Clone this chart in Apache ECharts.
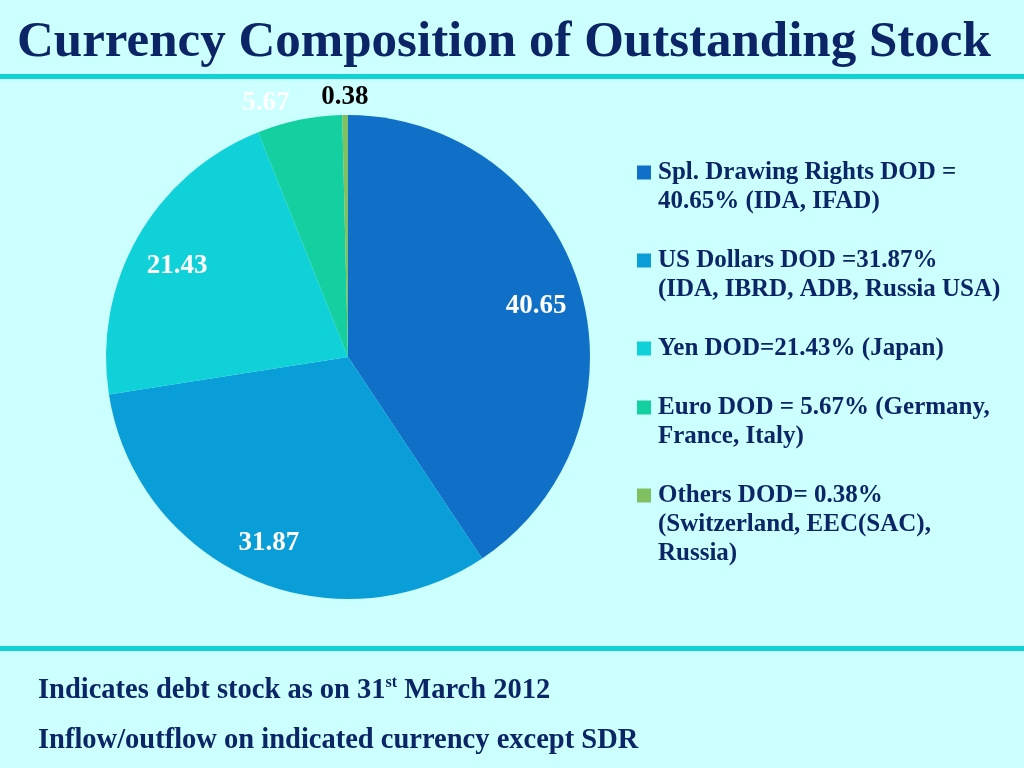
<!DOCTYPE html>
<html>
<head>
<meta charset="utf-8">
<script src="https://cdn.jsdelivr.net/npm/echarts@6/dist/echarts.min.js"></script>
<style>
  html, body { margin: 0; padding: 0; background: #ccffff; }
  #chart { width: 1024px; height: 768px; }
</style>
</head>
<body>
<div id="chart"></div>
<script>
// DATA
const categories = ["Spl. Drawing Rights", "US Dollars", "Yen", "Euro", "Others"];
const shares = [40.65, 31.87, 21.43, 5.67, 0.38];
const legendLines = [
  ["Spl. Drawing Rights DOD =", "40.65% (IDA, IFAD)"],
  ["US Dollars DOD =31.87%", "(IDA, IBRD, ADB, Russia USA)"],
  ["Yen DOD=21.43% (Japan)"],
  ["Euro DOD = 5.67% (Germany,", "France, Italy)"],
  ["Others DOD= 0.38%", "(Switzerland, EEC(SAC),", "Russia)"],
];
const titleText = "Currency Composition of Outstanding Stock";
const footNotes = [
  ["Indicates debt stock as on 31", "st", " March 2012"],
  ["Inflow/outflow on indicated currency except SDR"],
];

// STYLE
const colors = ["#1070c8", "#0a9ed8", "#10d0d8", "#14d0a0", "#80c060"];
const outerLabelColors = { Euro: "#ffffff", Others: "#000000" };
const navy = "#0b2566";
const rule = "#10d2d2";
const serif = "'Liberation Serif', 'Times New Roman', serif";
const R = 242;
const center = [348, 357];

let chart = echarts.init(document.getElementById("chart"));

// rich styles for the legend squares
let legendRich = {
  t: { fontFamily: serif, fontWeight: "bold", fontSize: 25, lineHeight: 29, color: navy },
  g: { width: 7 },
  sp: { width: 21 },
};
colors.forEach((c, i) => {
  legendRich["s" + i] = { width: 14, height: 14, backgroundColor: c };
});

function legendFormatter(name) {
  const i = categories.indexOf(name);
  return legendLines[i]
    .map((line, k) =>
      k === 0 ? "{s" + i + "|}{g|}{t|" + line + "}" : "{sp|}{t|" + line + "}"
    )
    .join("\n");
}

const pieData = categories.map((name, i) => ({
  name: name,
  value: shares[i],
  itemStyle: { color: colors[i] },
}));

// label rings: big slices labelled inside, small ones just outside
function labelData(inner) {
  return categories.map((name, i) => {
    const big = shares[i] >= 10;
    const show = inner ? big : !big;
    return {
      name: name,
      value: shares[i],
      label: {
        show: show,
        color: inner ? "#ffffff" : outerLabelColors[name],
        offset: inner ? [0, 6] : name === "Euro" ? [-30, 0] : [0, 0],
      },
    };
  });
}

const labelBase = {
  type: "pie",
  center: center,
  silent: true,
  startAngle: 90,
  itemStyle: { color: "transparent" },
  emphasis: { disabled: true },
  labelLine: { show: false },
  label: {
    position: "inside",
    fontFamily: serif,
    fontWeight: "bold",
    fontSize: 27,
    formatter: "{c}",
  },
};

let option = {
  backgroundColor: "#ccffff",
  animation: false,
  title: {
    text: titleText,
    left: 17,
    top: 17,
    padding: 0,
    textStyle: { fontFamily: serif, fontWeight: "bold", fontSize: 51, color: navy },
  },
  legend: {
    orient: "vertical",
    left: 632,
    top: 160,
    padding: 0,
    itemGap: 34,
    itemWidth: 0,
    itemHeight: 14,
    icon: "none",
    selectedMode: false,
    data: categories,
    formatter: legendFormatter,
    textStyle: { rich: legendRich },
  },
  graphic: [
    { type: "rect", left: 0, top: 74, shape: { width: 1024, height: 5 }, style: { fill: rule } },
    { type: "rect", left: 0, top: 646, shape: { width: 1024, height: 5 }, style: { fill: rule } },
    {
      type: "text",
      left: 38,
      top: 675,
      style: {
        text: "{n|" + footNotes[0][0] + "}{sup|" + footNotes[0][1] + "}{n|" + footNotes[0][2] + "}",
        rich: {
          n: { fontFamily: serif, fontWeight: "bold", fontSize: 28.5, lineHeight: 32, fill: navy },
          sup: { fontFamily: serif, fontWeight: "bold", fontSize: 16, lineHeight: 18, verticalAlign: "top", fill: navy },
        },
      },
    },
    {
      type: "text",
      left: 38,
      top: 726,
      style: {
        text: footNotes[1][0],
        font: "bold 28.5px " + serif,
        fill: navy,
      },
    },
  ],
  series: [
    {
      type: "pie",
      center: center,
      radius: R,
      startAngle: 90,
      label: { show: false },
      labelLine: { show: false },
      emphasis: { disabled: true },
      data: pieData,
    },
    Object.assign({}, labelBase, { radius: [0.6 * R, R], data: labelData(true) }),
    Object.assign({}, labelBase, { radius: [R, 1.12 * R], data: labelData(false) }),
  ],
};

chart.setOption(option);
</script>
</body>
</html>
